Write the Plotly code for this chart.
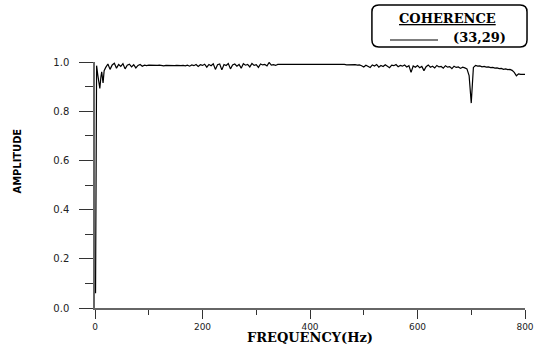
import plotly.graph_objects as go

# ---- data ----
freq_start = [1, 2, 3, 5, 7, 9, 11, 12.5, 15, 17]
amp_start = [0.06, 0.845, 0.985, 0.95, 0.925, 0.893, 0.94, 0.96, 0.915, 0.965]

freq_main = list(range(20, 801, 4))  # 20 .. 800 Hz sampling grid
amp_main = [
    # 20-96 Hz
    0.978, 0.992, 0.970, 0.988, 0.995, 0.975, 0.990, 0.982, 0.993, 0.972,
    0.987, 0.991, 0.980, 0.989, 0.976, 0.986, 0.990, 0.983, 0.987, 0.985,
    # 100-164 Hz
    0.987, 0.986, 0.988, 0.985, 0.986, 0.987, 0.985, 0.984, 0.986, 0.985,
    0.986, 0.984, 0.985, 0.986, 0.984, 0.985, 0.986,
    # 168-340 Hz
    0.984, 0.987, 0.983, 0.988, 0.985, 0.990, 0.982, 0.989, 0.986, 0.991,
    0.979, 0.990, 0.985, 0.993, 0.970, 0.989, 0.992, 0.968, 0.990, 0.986,
    0.994, 0.972, 0.988, 0.992, 0.983, 0.990, 0.975, 0.993, 0.987, 0.990,
    0.980, 0.994, 0.986, 0.989, 0.978, 0.992, 0.988, 0.990, 0.984, 0.998,
    0.987, 0.989, 0.986, 0.990,
    # 344-492 Hz
    0.990, 0.991, 0.990, 0.989, 0.990, 0.991, 0.990, 0.990, 0.989, 0.990,
    0.991, 0.990, 0.989, 0.990, 0.990, 0.991, 0.990, 0.989, 0.990, 0.991,
    0.992, 0.990, 0.989, 0.990, 0.991, 0.990, 0.989, 0.990, 0.990, 0.989,
    0.990, 0.988, 0.989, 0.990, 0.988, 0.989, 0.987, 0.988,
    # 496-584 Hz
    0.985, 0.980, 0.987, 0.983, 0.978, 0.988, 0.984, 0.990, 0.979, 0.986,
    0.982, 0.989, 0.983, 0.977, 0.987, 0.985, 0.990, 0.981, 0.986, 0.983,
    0.988, 0.980, 0.985,
    # 588 Hz
    0.958,
    # 592-692 Hz
    0.984, 0.979, 0.986, 0.977, 0.982, 0.965, 0.981, 0.988, 0.979, 0.983,
    0.976, 0.986, 0.980, 0.982, 0.975, 0.985, 0.979, 0.981, 0.973, 0.983,
    0.978, 0.980, 0.974, 0.979, 0.976, 0.972,
    # 696-800 Hz
    0.945, 0.833, 0.978, 0.986, 0.983, 0.984, 0.980, 0.982, 0.979, 0.980,
    0.977, 0.978, 0.975, 0.976, 0.973, 0.974, 0.970, 0.972, 0.969, 0.970,
    0.966, 0.958, 0.944, 0.952, 0.950, 0.951, 0.950,
]
assert len(freq_main) == len(amp_main)

frequency = freq_start + freq_main
amplitude = amp_start + amp_main

x_ticks = [0, 200, 400, 600, 800]
y_ticks = [0.0, 0.2, 0.4, 0.6, 0.8, 1.0]
legend_title = "COHERENCE"
series_name = "(33,29)"

# ---- figure ----
fig = go.Figure()
fig.add_trace(go.Scatter(x=frequency, y=amplitude, mode="lines",
                         line=dict(color="black", width=1.2),
                         name=series_name, showlegend=False))

tickfont_y = dict(family="DejaVu Sans", size=10, color="#222")
tickfont_x = dict(family="DejaVu Sans", size=9, color="#222")

fig.update_layout(
    width=539, height=344,
    margin=dict(l=95, r=14, t=62, b=36),
    paper_bgcolor="white", plot_bgcolor="white",
    xaxis=dict(range=[0, 800], tickvals=x_ticks, ticktext=[str(v) for v in x_ticks],
               showline=True, linecolor="#666", linewidth=1.5,
               ticks="outside", ticklen=9, tickwidth=1.2, tickcolor="#333",
               minor=dict(dtick=100, tick0=0, ticks="outside", ticklen=5,
                          tickwidth=1.2, tickcolor="#333"),
               showgrid=False, zeroline=False, tickfont=tickfont_x,
               automargin=False),
    yaxis=dict(range=[0, 1], tickvals=y_ticks, ticktext=[f"{v:.1f}" for v in y_ticks],
               showline=True, linecolor="#666", linewidth=1.5,
               ticks="outside", ticklen=14, tickwidth=1.2, tickcolor="#333",
               minor=dict(dtick=0.1, tick0=0, ticks="outside", ticklen=8,
                          tickwidth=1.2, tickcolor="#333"),
               showgrid=False, zeroline=False, tickfont=tickfont_y,
               ticklabelstandoff=8, automargin=False),
)

# axis titles
fig.add_annotation(text="FREQUENCY(Hz)", xref="paper", yref="paper", x=0.5, y=-0.1179,
                   xanchor="center", yanchor="middle", showarrow=False,
                   font=dict(family="DejaVu Serif", size=13, color="black", weight="bold"))
fig.add_annotation(text="AMPLITUDE", xref="paper", yref="paper", x=-0.1814, y=0.60,
                   xanchor="center", yanchor="middle", showarrow=False, textangle=-90,
                   font=dict(family="Liberation Sans Narrow, DejaVu Sans Condensed, sans-serif",
                             size=11, color="black", weight="bold"))

# legend box (rounded)
x0, x1, y0, y1 = 0.644, 1.0047, 1.061, 1.2317
rx, ry = 0.016, 0.028
path = (f"M {x0+rx},{y0} L {x1-rx},{y0} Q {x1},{y0} {x1},{y0+ry} "
        f"L {x1},{y1-ry} Q {x1},{y1} {x1-rx},{y1} L {x0+rx},{y1} "
        f"Q {x0},{y1} {x0},{y1-ry} L {x0},{y0+ry} Q {x0},{y0} {x0+rx},{y0} Z")
fig.add_shape(type="path", path=path, xref="paper", yref="paper",
              line=dict(color="black", width=1.5), fillcolor="white")
fig.add_shape(type="line", xref="paper", yref="paper", x0=0.686, x1=0.7977,
              y0=1.0894, y1=1.0894, line=dict(color="black", width=1.2))
fig.add_annotation(text=f"<u>{legend_title}</u>", xref="paper", yref="paper",
                   x=0.8198, y=1.1748, xanchor="center", yanchor="middle", showarrow=False,
                   font=dict(family="DejaVu Serif", size=13, color="black", weight="bold"))
fig.add_annotation(text=series_name, xref="paper", yref="paper",
                   x=0.894, y=1.0976, xanchor="center", yanchor="middle", showarrow=False,
                   font=dict(family="DejaVu Serif", size=13, color="black", weight="bold"))

# remove the page's default body margin so the 539x344 figure fills the window
fig.write_html("out.html",
               config={"displayModeBar": False},
               post_script="document.body.style.margin='0';"
                           "document.body.style.padding='0';"
                           "document.body.style.overflow='hidden';")
